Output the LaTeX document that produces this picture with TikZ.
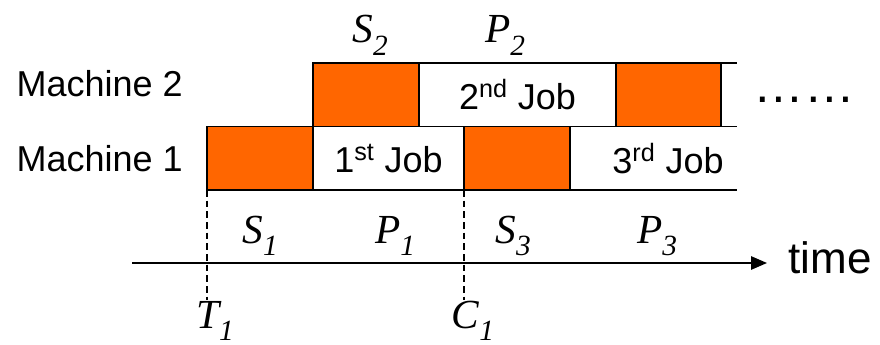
\documentclass[tikz,border=0pt]{standalone}
\usepackage{fontspec}
\setmainfont{Liberation Sans}
\newfontfamily\labelfont{Liberation Serif}
\usepackage{tikz}
\usetikzlibrary{positioning,arrows.meta}

\definecolor{setuporange}{RGB}{255,102,0}
\newcommand{\tlabel}[2]{{\labelfont\itshape #1}\raisebox{-0.3em}{\fontsize{22}{22}\selectfont\labelfont\itshape #2}}

\begin{document}
\begin{tikzpicture}[
        x=0.75pt, y=-0.75pt,
        node distance=0pt,
        slot/.style={rectangle, draw, line width=1.1pt, outer sep=0pt, inner sep=0pt, minimum height=47.6pt},
        setup/.style={slot, fill=setuporange},
        job/.style={slot, fill=white},
        jobtext/.style={font=\fontsize{27}{32}\selectfont},
        timelabel/.style={font=\fontsize{31}{36}\selectfont, anchor=base, inner sep=0pt},
        >=Stealth
      ]
      \useasboundingbox (0,0) rectangle (880,345);

      % machine 1
      \node[setup, minimum width=106*0.75pt, anchor=south west] (s1) at (207,190) {};
      \node[job, minimum width=151*0.75pt, right=of s1, jobtext] (job1) {1\textsuperscript{st} Job};
      \node[setup, minimum width=106*0.75pt, right=of job1] (s3) {};
      \node[jobtext] (job3) at (668,158.5) {3\textsuperscript{rd} Job};
      \draw[line width=1.1pt] (s3.north east) -- ++(167,0);
      \draw[line width=1.1pt] (s3.south east) -- ++(167,0);

      % machine 2
      \node[setup, minimum width=106*0.75pt, anchor=south west] (s2) at (s1.north east) {};
      \node[job, minimum width=197*0.75pt, right=of s2, jobtext] (job2) {2\textsuperscript{nd} Job};
      \node[setup, minimum width=105*0.75pt, right=of job2] (s4) {};
      \draw[line width=1.1pt] (s4.north east) -- ++(16,0);
      \draw[line width=1.1pt] (s4.south east) -- ++(16,0);

      \node[jobtext, anchor=base east, inner sep=0pt] (m2) at (183,97) {Machine 2};
      \node[jobtext, anchor=base east, inner sep=0pt] (m1) at (183,172) {Machine 1};
      \node[font=\fontsize{38}{46}\selectfont, anchor=base, inner sep=0pt] (dots) at (804,103) {……};

      % time axis
      \coordinate (t0) at (132,263);
      \coordinate (t1) at (767,263);
      \draw[line width=1.4pt, -{Triangle[length=12pt,width=10pt]}] (t0) -- (t1);
      \node[font=\fontsize{33}{40}\selectfont, anchor=base, inner sep=0pt] (time) at (830,273) {time};

      % start and completion marks
      \coordinate (tmark) at (207,300);
      \coordinate (cmark) at (464,300);
      \draw[line width=1pt, dash pattern=on 5pt off 3pt] (s1.south west) -- (tmark);
      \draw[line width=1pt, dash pattern=on 5pt off 3pt] (job1.south east) -- (cmark);

      \node[timelabel] (lT1) at (215,328) {\tlabel{T}{1}};
      \node[timelabel] (lC1) at (473,328) {\tlabel{C}{1}};
      \node[timelabel] (lS1) at (260,243) {\tlabel{S}{1}};
      \node[timelabel] (lP1) at (395,243) {\tlabel{P}{1}};
      \node[timelabel] (lS3) at (513,243) {\tlabel{S}{3}};
      \node[timelabel] (lP3) at (657,243) {\tlabel{P}{3}};
      \node[timelabel] (lS2) at (370,43) {\tlabel{S}{2}};
      \node[timelabel] (lP2) at (505,43) {\tlabel{P}{2}};

    \end{tikzpicture}
\end{document}
